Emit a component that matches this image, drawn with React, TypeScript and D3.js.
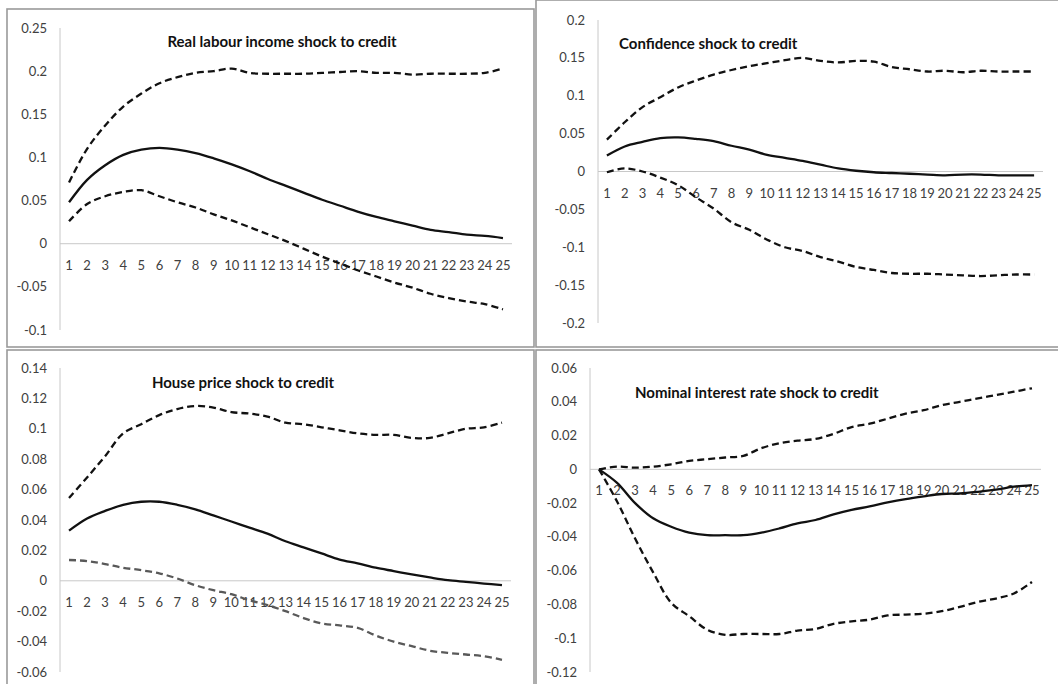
import React from "react";
import * as d3 from "d3";

// Horizon (quarters after the shock)
const periods = d3.range(1, 26);

// Real labour income shock to credit
const labourUpper = [0.071, 0.110, 0.137, 0.159, 0.174, 0.186, 0.193, 0.198, 0.200, 0.203, 0.198, 0.197, 0.197, 0.197, 0.198, 0.199, 0.200, 0.198, 0.198, 0.196, 0.197, 0.197, 0.197, 0.198, 0.203];
const labourMid = [0.048, 0.074, 0.091, 0.103, 0.109, 0.111, 0.109, 0.105, 0.099, 0.092, 0.084, 0.075, 0.067, 0.059, 0.051, 0.044, 0.037, 0.031, 0.026, 0.021, 0.016, 0.0135, 0.0105, 0.009, 0.0066];
const labourLower = [0.026, 0.046, 0.055, 0.060, 0.062, 0.055, 0.048, 0.042, 0.034, 0.027, 0.019, 0.011, 0.003, -0.006, -0.015, -0.023, -0.031, -0.038, -0.045, -0.051, -0.058, -0.063, -0.067, -0.070, -0.076];
const labourTicks = [0.25, 0.2, 0.15, 0.1, 0.05, 0, -0.05, -0.1];

// Confidence shock to credit
const confUpper = [0.042, 0.065, 0.085, 0.098, 0.111, 0.120, 0.128, 0.134, 0.139, 0.143, 0.147, 0.150, 0.146, 0.144, 0.146, 0.145, 0.138, 0.135, 0.132, 0.133, 0.131, 0.133, 0.132, 0.132, 0.132];
const confMid = [0.021, 0.033, 0.039, 0.044, 0.045, 0.043, 0.040, 0.034, 0.029, 0.022, 0.018, 0.014, 0.009, 0.004, 0.001, -0.001, -0.002, -0.003, -0.004, -0.005, -0.004, -0.004, -0.005, -0.005, -0.005];
const confLower = [-0.001, 0.004, 0.0, -0.008, -0.018, -0.034, -0.049, -0.067, -0.077, -0.090, -0.100, -0.105, -0.113, -0.119, -0.126, -0.130, -0.134, -0.135, -0.135, -0.136, -0.137, -0.138, -0.137, -0.136, -0.136];
const confTicks = [0.2, 0.15, 0.1, 0.05, 0, -0.05, -0.1, -0.15, -0.2];

// House price shock to credit
const houseUpper = [0.0545, 0.068, 0.082, 0.097, 0.103, 0.109, 0.113, 0.115, 0.114, 0.111, 0.110, 0.108, 0.104, 0.103, 0.101, 0.099, 0.097, 0.096, 0.096, 0.094, 0.094, 0.097, 0.100, 0.101, 0.104];
const houseMid = [0.033, 0.041, 0.046, 0.050, 0.052, 0.052, 0.050, 0.047, 0.043, 0.039, 0.035, 0.031, 0.026, 0.022, 0.018, 0.014, 0.0115, 0.0086, 0.0064, 0.0042, 0.0022, 0.0004, -0.0007, -0.0018, -0.0029];
const houseLower = [0.0137, 0.013, 0.011, 0.0086, 0.007, 0.0049, 0.0015, -0.0029, -0.0062, -0.0088, -0.0128, -0.016, -0.020, -0.0245, -0.028, -0.0293, -0.031, -0.036, -0.040, -0.043, -0.046, -0.0474, -0.0485, -0.0496, -0.052];
const houseTicks = [0.14, 0.12, 0.1, 0.08, 0.06, 0.04, 0.02, 0, -0.02, -0.04, -0.06];

// Nominal interest rate shock to credit
const rateUpper = [0, 0.0016, 0.001, 0.0016, 0.003, 0.005, 0.006, 0.007, 0.008, 0.0125, 0.0155, 0.017, 0.018, 0.021, 0.025, 0.027, 0.030, 0.033, 0.035, 0.038, 0.040, 0.042, 0.044, 0.046, 0.048];
const rateMid = [0, -0.008, -0.020, -0.029, -0.034, -0.0375, -0.039, -0.039, -0.039, -0.0375, -0.035, -0.032, -0.030, -0.0267, -0.024, -0.022, -0.0196, -0.0176, -0.016, -0.0146, -0.0143, -0.0133, -0.012, -0.0103, -0.0093];
const rateLower = [0, -0.019, -0.041, -0.061, -0.079, -0.087, -0.095, -0.098, -0.0975, -0.0975, -0.0975, -0.0955, -0.0945, -0.0915, -0.090, -0.089, -0.0865, -0.086, -0.0855, -0.084, -0.0815, -0.0785, -0.0765, -0.0735, -0.0667];
const rateTicks = [0.06, 0.04, 0.02, 0, -0.02, -0.04, -0.06, -0.08, -0.1, -0.12];

type PanelSpec = {
  title: string;
  titleX: number;
  titleY: number;
  titleAnchor: "start" | "middle";
  frame: [number, number, number, number];
  xRange: [number, number];
  yRange: [number, number];
  ticks: number[];
  upper: number[];
  mid: number[];
  lower: number[];
  lowerColor: string;
};

const panels: PanelSpec[] = [
  {
    title: "Real labour income shock to credit",
    titleX: 282, titleY: 47, titleAnchor: "middle",
    frame: [7, 9, 534, 347],
    xRange: [60, 512], yRange: [330, 28],
    ticks: labourTicks, upper: labourUpper, mid: labourMid, lower: labourLower,
    lowerColor: "#111",
  },
  {
    title: "Confidence shock to credit",
    titleX: 619, titleY: 49, titleAnchor: "start",
    frame: [536, 0, 1062, 347],
    xRange: [598, 1043], yRange: [323, 20],
    ticks: confTicks, upper: confUpper, mid: confMid, lower: confLower,
    lowerColor: "#111",
  },
  {
    title: "House price shock to credit",
    titleX: 243, titleY: 388, titleAnchor: "middle",
    frame: [7, 350, 534, 690],
    xRange: [60, 511], yRange: [672, 368],
    ticks: houseTicks, upper: houseUpper, mid: houseMid, lower: houseLower,
    lowerColor: "#595959",
  },
  {
    title: "Nominal interest rate shock to credit",
    titleX: 635, titleY: 398, titleAnchor: "start",
    frame: [536, 350, 1062, 690],
    xRange: [590, 1041], yRange: [672, 368],
    ticks: rateTicks, upper: rateUpper, mid: rateMid, lower: rateLower,
    lowerColor: "#111",
  },
];

const FONT = "Lato, 'Open Sans', sans-serif";

function Panel({ p }: { p: PanelSpec }) {
  const x = d3.scaleBand<number>().domain(periods).range(p.xRange).padding(0);
  const y = d3
    .scaleLinear()
    .domain([d3.min(p.ticks) as number, d3.max(p.ticks) as number])
    .range(p.yRange);
  const cx = (i: number) => (x(periods[i]) as number) + x.bandwidth() / 2;
  const line = d3
    .line<number>()
    .x((_, i) => cx(i))
    .y((v) => y(v))
    .curve(d3.curveCatmullRom.alpha(0.5));
  const [fx0, fy0, fx1, fy1] = p.frame;
  const y0 = y(0);
  return (
    <g>
      <rect
        x={fx0}
        y={fy0}
        width={fx1 - fx0}
        height={fy1 - fy0}
        fill="#fff"
        stroke="#9a9a9a"
        strokeWidth={1.6}
      />
      {/* value axis */}
      <line
        x1={p.xRange[0]}
        x2={p.xRange[0]}
        y1={p.yRange[0]}
        y2={p.yRange[1]}
        stroke="#c8c8c8"
        strokeWidth={1}
      />
      {p.ticks.map((t) => (
        <text
          key={t}
          x={p.xRange[0] - 13}
          y={y(t)}
          dy="0.35em"
          textAnchor="end"
          fontSize={13}
          fontFamily={FONT}
          fill="#404040"
        >
          {String(t)}
        </text>
      ))}
      {/* category axis at zero */}
      <line
        x1={p.xRange[0]}
        x2={p.xRange[1]}
        y1={y0}
        y2={y0}
        stroke="#c8c8c8"
        strokeWidth={1}
      />
      {periods.map((c, i) => (
        <text
          key={c}
          x={cx(i)}
          y={y0 + 26}
          textAnchor="middle"
          fontSize={13}
          fontFamily={FONT}
          fill="#404040"
        >
          {c}
        </text>
      ))}
      <path d={line(p.upper) ?? ""} fill="none" stroke="#111" strokeWidth={2.3} strokeDasharray="7,4" />
      <path d={line(p.lower) ?? ""} fill="none" stroke={p.lowerColor} strokeWidth={2.3} strokeDasharray="7,4" />
      <path d={line(p.mid) ?? ""} fill="none" stroke="#111" strokeWidth={2.3} />
      <text
        x={p.titleX}
        y={p.titleY}
        textAnchor={p.titleAnchor}
        fontSize={15}
        fontWeight="bold"
        fontFamily={FONT}
        fill="#111"
      >
        {p.title}
      </text>
    </g>
  );
}

export default function App() {
  return (
    <svg
      width={1058}
      height={684}
      style={{ position: "absolute", left: 0, top: 0, background: "#fff" }}
    >
      <rect x={0} y={0} width={1058} height={684} fill="#fff" />
      {panels.map((p) => (
        <Panel key={p.title} p={p} />
      ))}
    </svg>
  );
}
